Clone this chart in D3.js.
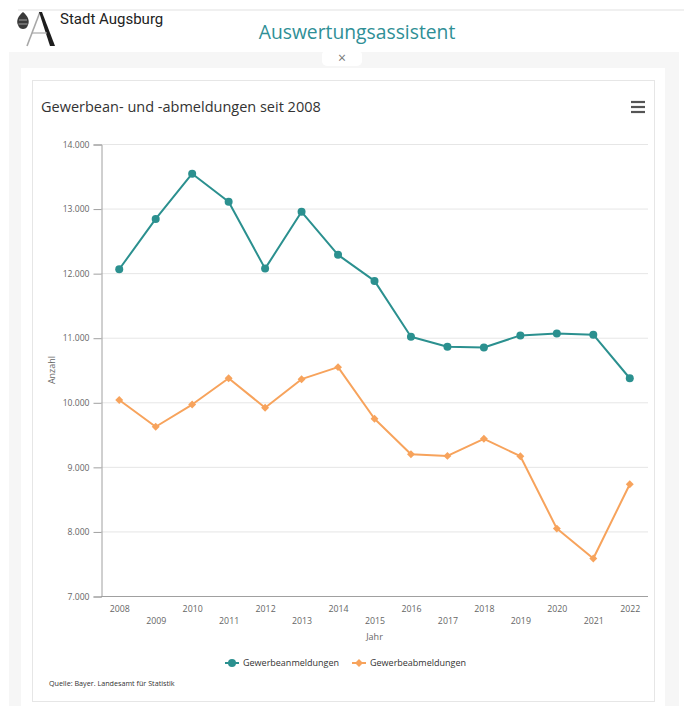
<!DOCTYPE html>
<html>
<head>
<meta charset="utf-8">
<script src="https://cdn.jsdelivr.net/npm/d3@7"></script>
<style>
  html, body { margin: 0; padding: 0; background: #fff; }
  svg { display: block; font-family: "Open Sans", "Noto Sans", sans-serif; }
</style>
</head>
<body>
<div id="chart"></div>
<script>
const years = ["2008","2009","2010","2011","2012","2013","2014","2015","2016","2017","2018","2019","2020","2021","2022"];
const anmeldungen = [12060, 12840, 13540, 13105, 12070, 12950, 12283, 11880, 11016, 10860, 10849, 11036, 11067, 11047, 10372];
const abmeldungen = [10036, 9621, 9965, 10373, 9916, 10358, 10544, 9745, 9196, 9170, 9434, 9165, 8044, 7580, 8730];
const yTicks = [7000, 8000, 9000, 10000, 11000, 12000, 13000, 14000];
const seriesNames = ["Gewerbeanmeldungen", "Gewerbeabmeldungen"];
const colors = ["#2b908f", "#f7a35c"];

const W = 684, H = 706;
const svg = d3.select("#chart").append("svg").attr("width", W).attr("height", H);

// ---- page chrome ----
svg.append("line").attr("x1", 18).attr("x2", W).attr("y1", 10).attr("y2", 10)
  .attr("stroke", "#ebebeb").attr("stroke-width", 1.5);
// logo: pine cone + A
const logo = svg.append("g");
logo.append("path")
  .attr("d", "M23,12 C18,16 16,21 18,25 C19,28 21,29 23,29 C25,29 27,28 28,25 C30,21 28,16 23,12 Z")
  .attr("fill", "#3a3a3a");
logo.append("path").attr("d", "M19,20 L27,20 M18.5,24 L27.5,24").attr("stroke", "#bbb").attr("stroke-width", 0.8);
logo.append("path").attr("d", "M40,12 L27,46").attr("stroke", "#a8a8a8").attr("stroke-width", 1.6).attr("fill", "none");
logo.append("path").attr("d", "M39,12 L42,12 L55,46 L50,46 Z").attr("fill", "#1e1e1e");
logo.append("path").attr("d", "M32,33 L47,33").attr("stroke", "#a8a8a8").attr("stroke-width", 1.2);
svg.append("text").attr("x", 60).attr("y", 24).attr("font-size", 15)
  .attr("font-family", "Roboto, 'Liberation Sans', sans-serif").attr("fill", "#222")
  .text("Stadt Augsburg");
svg.append("text").attr("x", 357).attr("y", 39).attr("text-anchor", "middle")
  .attr("font-size", 19.3).attr("fill", "#2f8f96").text("Auswertungsassistent");

// grey panel
svg.append("rect").attr("x", 9).attr("y", 52).attr("width", 670).attr("height", H - 52).attr("fill", "#f6f6f6");
svg.append("rect").attr("x", 322).attr("y", 50).attr("width", 40).attr("height", 16).attr("rx", 5).attr("fill", "#fff");
svg.append("text").attr("x", 342).attr("y", 63).attr("text-anchor", "middle").attr("font-size", 14)
  .attr("fill", "#777").text("×");
// white card
svg.append("rect").attr("x", 21).attr("y", 68).attr("width", 644).attr("height", H - 68).attr("fill", "#fff");
// chart box
svg.append("rect").attr("x", 32.5).attr("y", 80.5).attr("width", 622).attr("height", 621)
  .attr("fill", "#fff").attr("stroke", "#e6e6e6").attr("stroke-width", 1);

// title
svg.append("text").attr("x", 41).attr("y", 112).attr("font-size", 14.5).attr("fill", "#333")
  .text("Gewerbean- und -abmeldungen seit 2008");
// hamburger
[102, 107, 112].forEach((yy) => {
  svg.append("line").attr("x1", 631).attr("x2", 645).attr("y1", yy).attr("y2", yy)
    .attr("stroke", "#555").attr("stroke-width", 2.2);
});

// ---- plot ----
const plot = { left: 101, right: 648, top: 144, bottom: 596 };
const x = d3.scalePoint().domain(years).range([plot.left, plot.right]).padding(0.5);
const y = d3.scaleLinear().domain([7000, 14000]).range([plot.bottom, plot.top]);
const loc = d3.formatLocale({ decimal: ",", thousands: ".", grouping: [3], currency: ["", " €"] });
const fmt = loc.format(",.0f");

// grid
svg.append("g").selectAll("line").data(yTicks.filter(t => t > 7000)).join("line")
  .attr("x1", plot.left).attr("x2", plot.right)
  .attr("y1", d => y(d) + 0.5).attr("y2", d => y(d) + 0.5)
  .attr("stroke", "#e6e6e6").attr("stroke-width", 1);

// y axis
const yAxis = svg.append("g").attr("transform", `translate(${plot.left + 0.5},0.5)`)
  .call(d3.axisLeft(y).tickValues(yTicks).tickFormat(fmt).tickSize(8).tickPadding(4));
yAxis.select(".domain").attr("stroke", "#a0a0a0");
yAxis.selectAll(".tick line").attr("stroke", "#a0a0a0");
yAxis.selectAll("text").attr("font-size", 8.6).attr("fill", "#666").attr("font-family", "'Open Sans', sans-serif");

// x axis
const xAxis = svg.append("g").attr("transform", `translate(0,${plot.bottom + 0.5})`)
  .call(d3.axisBottom(x).tickSize(0).tickPadding(0));
xAxis.select(".domain").attr("stroke", "#a0a0a0").attr("d", `M${plot.left},0H${plot.right}`);
xAxis.selectAll("text").attr("font-size", 8.8).attr("fill", "#666")
  .attr("font-family", "'Open Sans', sans-serif")
  .attr("dy", null)
  .attr("y", (d, i) => i % 2 === 0 ? 15 : 27);

// axis titles
svg.append("text").attr("transform", `translate(55,${(plot.top + plot.bottom) / 2}) rotate(-90)`)
  .attr("text-anchor", "middle").attr("font-size", 9).attr("fill", "#666").text("Anzahl");
svg.append("text").attr("x", (plot.left + plot.right) / 2).attr("y", 640).attr("text-anchor", "middle")
  .attr("font-size", 9).attr("fill", "#666").text("Jahr");

// series
const line = d3.line().x((d, i) => x(years[i])).y(d => y(d));
const allSeries = [anmeldungen, abmeldungen];
allSeries.forEach((vals, si) => {
  svg.append("path").datum(vals).attr("d", line).attr("fill", "none")
    .attr("stroke", colors[si]).attr("stroke-width", 2).attr("stroke-linejoin", "round");
});
svg.append("g").selectAll("circle").data(anmeldungen).join("circle")
  .attr("cx", (d, i) => x(years[i])).attr("cy", d => y(d)).attr("r", 4).attr("fill", colors[0]);
const diamond = d3.symbol().type(d3.symbolDiamond2).size(40);
svg.append("g").selectAll("path").data(abmeldungen).join("path")
  .attr("transform", (d, i) => `translate(${x(years[i])},${y(d)})`)
  .attr("d", diamond).attr("fill", colors[1]);

// legend
const legendItems = [
  { name: seriesNames[0], color: colors[0], sx: 225, tx: 243, sym: "circle" },
  { name: seriesNames[1], color: colors[1], sx: 352, tx: 370, sym: "diamond" }
];
const ly = 663;
legendItems.forEach(it => {
  const g = svg.append("g");
  g.append("line").attr("x1", it.sx).attr("x2", it.sx + 14).attr("y1", ly).attr("y2", ly)
    .attr("stroke", it.color).attr("stroke-width", 2);
  if (it.sym === "circle") {
    g.append("circle").attr("cx", it.sx + 7).attr("cy", ly).attr("r", 4).attr("fill", it.color);
  } else {
    g.append("path").attr("transform", `translate(${it.sx + 7},${ly})`).attr("d", diamond).attr("fill", it.color);
  }
  g.append("text").attr("x", it.tx).attr("y", ly + 3.3).attr("font-size", 9).attr("fill", "#333").text(it.name);
});

// source
svg.append("text").attr("x", 49).attr("y", 686).attr("font-size", 7.2).attr("fill", "#333")
  .text("Quelle: Bayer. Landesamt für Statistik");
</script>
</body>
</html>
